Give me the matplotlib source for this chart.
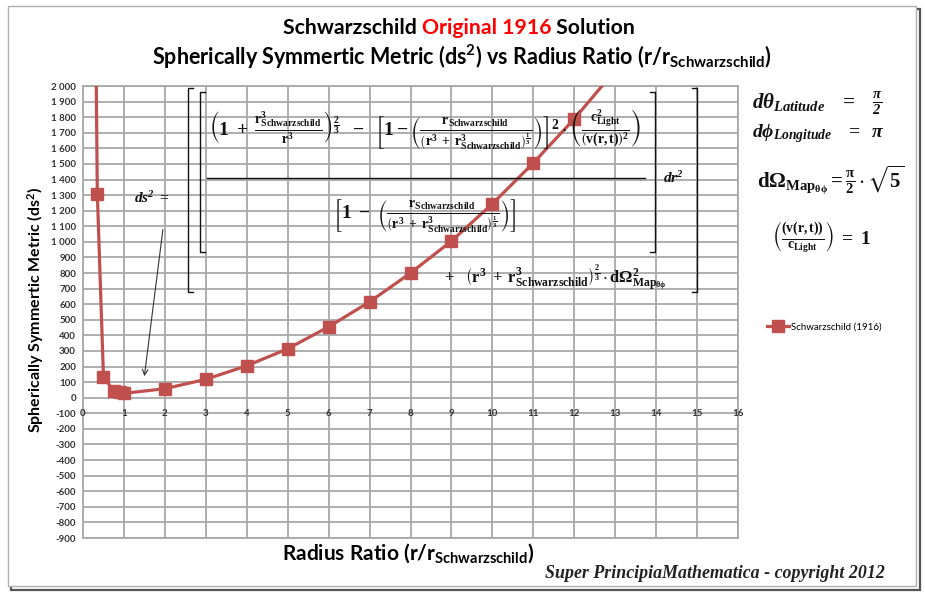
import matplotlib
matplotlib.use('Agg')
import matplotlib.pyplot as plt
from matplotlib.lines import Line2D
from matplotlib.patches import Rectangle
from matplotlib.ticker import FuncFormatter

# data
r_ratio = [0.25, 0.35, 0.5, 0.75, 0.9, 1.0, 2, 3, 4, 5, 6, 7, 8, 9, 10, 11, 12, 13, 14, 15]
ds2 = [4000, 1310, 133, 45, 35, 28, 58, 118, 205, 314, 455, 615, 800, 1005, 1244, 1506, 1789, 2100, 2440, 2800]
x_ticks = list(range(0, 17))
y_ticks = list(range(-900, 2001, 100))
series_name = 'Schwarzschild (1916)'

W, H = 925, 594
RED = '#C0504D'
GRID = '#a8a8a8'
INK = '#111111'

plt.rcParams['mathtext.default'] = 'regular'


def fx(x):
    return x / W


def fy(y):
    return 1 - y / H


def bracket(x, y0, y1, d, lw=1.0):
    # square bracket drawn as a line, d = +1 opens right, -1 opens left
    fig.add_artist(Line2D([fx(x + 5 * d), fx(x), fx(x), fx(x + 5 * d)],
                          [fy(y0), fy(y0), fy(y1), fy(y1)], transform=fig.transFigure,
                          color=INK, lw=lw, zorder=5))


fig = plt.figure(figsize=(W / 100, H / 100), dpi=100)
fig.patch.set_facecolor('white')

# picture frame with a little shadow
fig.add_artist(Rectangle((fx(11), fy(590)), fx(909), 581 / H, transform=fig.transFigure,
                         fill=False, edgecolor='#555555', lw=1.6, zorder=-2))
fig.add_artist(Rectangle((fx(8), fy(586)), fx(908), 580 / H, transform=fig.transFigure,
                         facecolor='white', edgecolor='#b0b0b0', lw=1.0, zorder=-1))

ax = fig.add_axes([fx(83), fy(538), fx(738 - 83), (538 - 86) / H])
ax.set_facecolor('none')
ax.set_xlim(0, 16)
ax.set_ylim(-900, 2000)
ax.set_xticks(x_ticks)
ax.set_yticks(y_ticks)
ax.grid(True, color=GRID, lw=1.3)
ax.set_axisbelow(True)
for s in ax.spines.values():
    s.set_color(GRID)
    s.set_linewidth(1.3)
ax.tick_params(length=0, labelbottom=False)
ax.yaxis.set_major_formatter(FuncFormatter(
    lambda v, p: ('-' if v < 0 else '') + f"{abs(int(v)):,}".replace(',', ' ')))
for lab in ax.get_yticklabels():
    lab.set_fontsize(7)
    lab.set_fontweight('bold')
    lab.set_color('#333333')
    lab.set_family('Lato')
ax.tick_params(axis='y', pad=5)

# x labels sit just under the zero line, like Excel
for t in x_ticks:
    ax.text(t, -100, str(t), ha='center', va='center', fontsize=7,
            fontweight='bold', color='#333333', family='Lato')

ax.plot(r_ratio, ds2, color=RED, lw=2.3, marker='s', ms=8, mec=RED, mfc=RED,
        label=series_name, clip_on=True, zorder=3)

ax.legend(loc='center left', bbox_to_anchor=(fx(762), fy(327)), bbox_transform=fig.transFigure,
          frameon=False, handlelength=2.3, handletextpad=0.2, borderpad=0,
          prop={'family': 'Lato', 'size': 7})

# arrow pointing at the curve
ax.annotate('', xy=(1.49, 120), xytext=(1.96, 1096),
            arrowprops=dict(arrowstyle='->', color='#333333', lw=0.8))

# titles
renderer = fig.canvas.get_renderer()
title_parts = [('Schwarzschild ', 'black'), ('Original 1916', '#ff0000'), (' Solution', 'black')]
texts = [fig.text(0, fy(28), s, color=c, fontsize=15.3, fontweight='bold', family='Lato',
                  va='center', ha='left') for s, c in title_parts]
widths = [t.get_window_extent(renderer).width for t in texts]
x0 = 459 - sum(widths) / 2
for t, w in zip(texts, widths):
    t.set_x(fx(x0))
    x0 += w

fig.text(fx(462), fy(57), r'Spherically Symmertic Metric (ds$^2$) vs Radius Ratio (r/r$_{Schwarzschild}$)',
         ha='center', va='center', fontsize=15.5, fontweight='bold', family='Lato')
fig.text(fx(36), fy(310), r'Spherically Symmertic Metric (ds$^2$)', rotation=90,
         ha='center', va='center', fontsize=11.5, fontweight='bold', family='Lato')
fig.text(fx(408), fy(553), r'Radius Ratio (r/r$_{Schwarzschild}$)',
         ha='center', va='center', fontsize=15, fontweight='bold', family='Lato')
fig.text(fx(885), fy(574), 'Super PrincipiaMathematica - copyright 2012', ha='right', va='center',
         fontsize=12.9, fontweight='bold', style='italic', family='Liberation Serif', color='#222222')

# the metric written over the plot
eq = dict(family='Liberation Serif', fontweight='bold', color=INK, math_fontfamily='stix', zorder=5)
fig.text(fx(152), fy(198), r'$ds^2\ =$', ha='center', va='center', fontsize=11, style='italic', **eq)
num = (r'$\left(1\ +\ \frac{r^3_{Schwarzschild}}{r^3}\right)^{\frac{2}{3}}\ \ -\ \ '
       r'\left[1-\left(\frac{r_{Schwarzschild}}{\left(r^3\ +\ r^3_{Schwarzschild}\right)^{\frac{1}{3}}}\right)\right]^2'
       r'\cdot\left(\frac{c^2_{Light}}{\left(v(r,t)\right)^2}\right)$')
den = (r'$\left[1\ -\ \left(\frac{r_{Schwarzschild}}{\left(r^3\ +\ r^3_{Schwarzschild}\right)^{\frac{1}{3}}}\right)\right]$')
fig.text(fx(425), fy(130), num, ha='center', va='center', fontsize=14, **eq)
fig.text(fx(425), fy(215), den, ha='center', va='center', fontsize=14, **eq)
fig.add_artist(Line2D([fx(207), fx(645)], [fy(178), fy(178)], transform=fig.transFigure,
                      color=INK, lw=1.0, zorder=5))
fig.text(fx(663), fy(178), r'$dr^2$', ha='left', va='center', fontsize=11, style='italic', **eq)
fig.text(fx(555), fy(278), r'$+\ \ \ \left(r^3\ +\ r^3_{Schwarzschild}\right)^{\frac{2}{3}}\cdot d\Omega^2_{Map_{\theta\phi}}$',
         ha='center', va='center', fontsize=12, **eq)
bracket(200, 92, 252, 1)
bracket(655, 92, 252, -1)
bracket(188, 88, 292, 1)
bracket(697, 88, 292, -1)

# side notes
fig.text(fx(752), fy(103), r'$d\theta_{Latitude}\ \ \ =\ \ \ \frac{\pi}{2}$', ha='left', va='center',
         fontsize=15, style='italic', **eq)
fig.text(fx(752), fy(134), r'$d\phi_{Longitude}\ \ \ =\ \ \pi$', ha='left', va='center',
         fontsize=14, style='italic', **eq)
fig.text(fx(757), fy(180), r'$d\Omega_{Map_{\theta\phi}} = \frac{\pi}{2}\cdot\sqrt{5}$', ha='left', va='center',
         fontsize=15, **eq)
fig.text(fx(772), fy(237), r'$\left(\frac{(v(r,t))}{c_{Light}}\right)\ =\ 1$', ha='left', va='center',
         fontsize=14, **eq)

fig.savefig('out.png', dpi=100)
